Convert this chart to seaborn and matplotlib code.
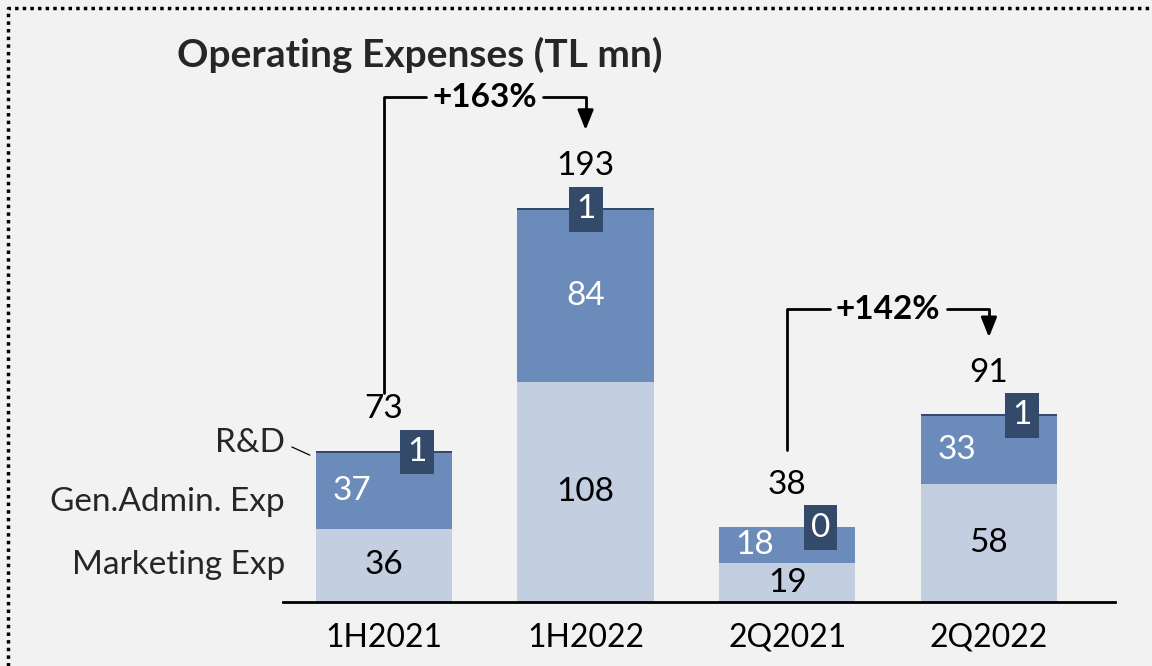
import seaborn as sns
import matplotlib.pyplot as plt
import pandas as pd
import numpy as np

# Data
periods = ["1H2021", "1H2022", "2Q2021", "2Q2022"]
marketing = [36, 108, 19, 58]
gen_admin = [37, 84, 18, 33]
rnd = [1, 1, 0, 1]
totals = [73, 193, 38, 91]
changes = ["+163%", "+142%"]
series_names = ["Marketing Exp", "Gen.Admin. Exp", "R&D"]

c_mkt = "#c3cee1"
c_adm = "#6b8cba"
c_rnd = "#344a6b"
bg = "#f2f2f2"

sns.set_theme(style="white")
plt.rcParams["font.family"] = ["Lato", "DejaVu Sans"]

df = pd.DataFrame({"period": periods, "mkt": marketing, "adm": gen_admin, "rnd": rnd})
df["adm_top"] = df["mkt"] + df["adm"]
df["top"] = df["adm_top"] + df["rnd"]

fig = plt.figure(figsize=(11.52, 6.66), dpi=100, facecolor=bg)
ax = fig.add_axes([283 / 1152, 64 / 666, 832 / 1152, 542 / 666])
ax.set_facecolor(bg)

w = 0.675
sns.barplot(data=df, x="period", y="top", color=c_rnd, width=w, saturation=1, linewidth=0, ax=ax)
sns.barplot(data=df, x="period", y="adm_top", color=c_adm, width=w, saturation=1, linewidth=0, ax=ax)
sns.barplot(data=df, x="period", y="mkt", color=c_mkt, width=w, saturation=1, linewidth=0, ax=ax)

ax.set_xlim(-0.5, 3.625)
ax.set_ylim(0, 265.7)
ax.set_xlabel("")
ax.set_ylabel("")
ax.set_yticks([])
for s in ["top", "right", "left"]:
    ax.spines[s].set_visible(False)
ax.spines["bottom"].set_color("black")
ax.spines["bottom"].set_linewidth(2)
ax.tick_params(axis="x", length=0, pad=15, labelsize=23, labelcolor="black")

fs = 24
for i, row in df.iterrows():
    # marketing label
    ax.text(i, row["mkt"] / 2, str(row["mkt"]), ha="center", va="center", fontsize=fs, color="black")
    # admin label
    dx = 0 if row["adm"] > 60 else -0.16
    ax.text(i + dx, row["mkt"] + row["adm"] / 2, str(row["adm"]), ha="center", va="center",
            fontsize=fs, color="white")
    # R&D box
    bx = i if row["adm"] > 60 else i + 0.165
    ax.text(bx, row["top"] - 0.5, str(row["rnd"]), ha="center", va="center", fontsize=fs, color="white",
            bbox=dict(boxstyle="square,pad=0.22", facecolor=c_rnd, edgecolor="none"))
    # total
    ax.text(i, row["top"] + 20.5, str(totals[i]), ha="center", va="center", fontsize=fs, color="black")

# growth connectors
def connector(x0, x1, y_low, y_high, y_tip, label):
    xm = (x0 + x1) / 2
    ax.plot([x0, x0, xm - 0.29], [y_low, y_high, y_high], color="black", lw=2, clip_on=False)
    ax.plot([xm + 0.29, x1, x1], [y_high, y_high, y_tip + 8], color="black", lw=2, clip_on=False)
    ax.annotate("", xy=(x1, y_tip), xytext=(x1, y_tip + 9),
                arrowprops=dict(arrowstyle="-|>,head_width=0.4,head_length=1.0", color="black", lw=2),
                annotation_clip=False)
    ax.text(xm, y_high, label, ha="center", va="center", fontsize=24, fontweight="bold", color="black")

connector(0, 1, totals[0] + 29.5, totals[1] + 54.5, totals[1] + 37, changes[0])
connector(2, 3, totals[2] + 36.5, totals[3] + 52.6, totals[3] + 37.4, changes[1])

# left series labels
lx = -0.49
ax.text(lx, df["mkt"][0] / 2, series_names[0], ha="right", va="center", fontsize=fs)
ax.text(lx, df["mkt"][0] + df["adm"][0] / 2 - 5.5, series_names[1], ha="right", va="center", fontsize=fs)
ax.text(lx, df["top"][0] + 4, series_names[2], ha="right", va="center", fontsize=fs)
ax.plot([-0.456, -0.367], [df["top"][0] + 2, df["top"][0] - 2], color="black", lw=0.9, clip_on=False)

# title
fig.text(177 / 1152, 1 - 55 / 666, "Operating Expenses (TL mn)", ha="left", va="center",
         fontsize=28, fontweight="bold")

# dotted border
fig.add_artist(plt.Line2D([8 / 1152, 8 / 1152, 1], [0, 1 - 8 / 666, 1 - 8 / 666],
                          transform=fig.transFigure, color="black", lw=2.5, linestyle=(0, (1, 1.2))))

fig.savefig("out.png", dpi=100, facecolor=bg)
